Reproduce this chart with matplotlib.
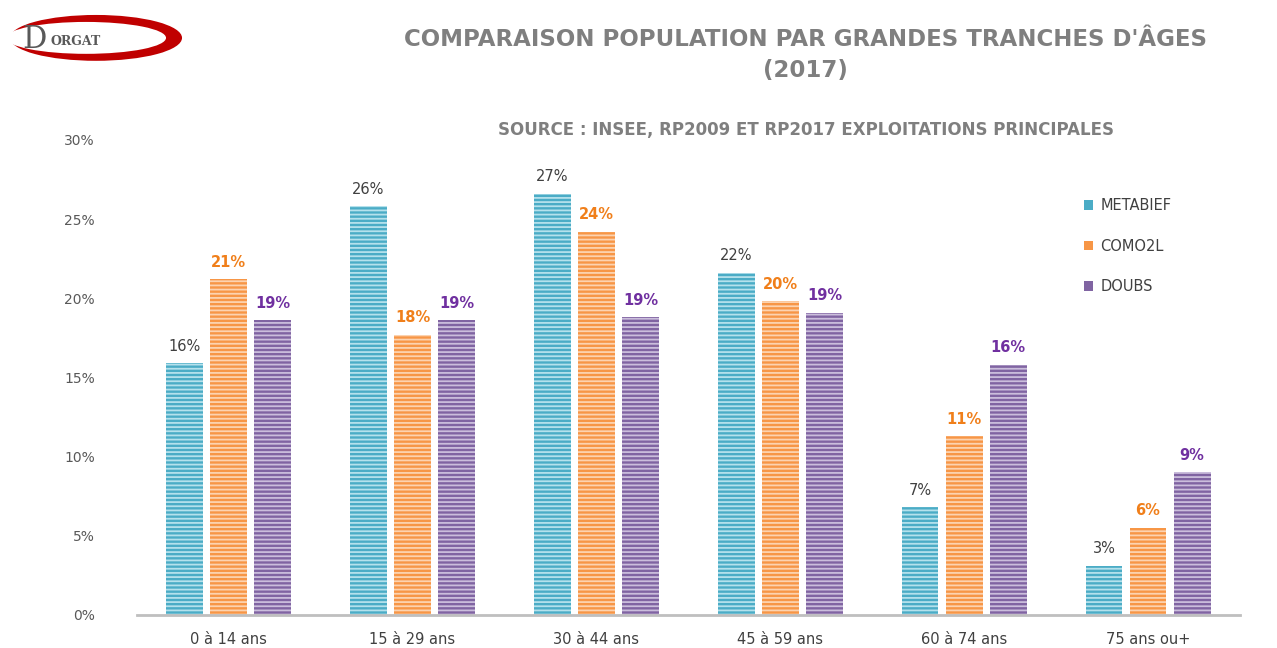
import numpy as np
import matplotlib
matplotlib.use("Agg")
import matplotlib.pyplot as plt
from matplotlib.patches import Ellipse, Patch

categories = ["0 à 14 ans", "15 à 29 ans", "30 à 44 ans", "45 à 59 ans", "60 à 74 ans", "75 ans ou+"]
metabief = [15.9, 25.8, 26.6, 21.6, 6.8, 3.1]
como2l = [21.2, 17.7, 24.2, 19.8, 11.3, 5.5]
doubs = [18.6, 18.6, 18.8, 19.1, 15.8, 9.0]
series_names = ["METABIEF", "COMO2L", "DOUBS"]
yticks = [0, 5, 10, 15, 20, 25, 30]

colors = ["#4BACC6", "#F79646", "#8064A2"]
stripes = ["#B5E1EC", "#FCD3B0", "#CBBEDC"]
label_colors = ["#404040", "#F07F1A", "#7030A0"]
label_weights = ["normal", "bold", "bold"]

plt.rcParams["hatch.linewidth"] = 1.3
fig = plt.figure(figsize=(12.77, 6.48), dpi=100)
ax = fig.add_axes([0.107, 0.051, 0.864, 0.733])

x = np.arange(len(categories))
w = 0.2
step = 0.24
for i, vals in enumerate([metabief, como2l, doubs]):
    pos = x + (i - 1) * step
    ax.bar(pos, vals, width=w, color=colors[i], edgecolor=stripes[i],
           linewidth=0, hatch="----")
    for p, v in zip(pos, vals):
        ax.text(p, v + 0.6, "%d%%" % round(v), ha="center", va="bottom",
                fontsize=10.5, color=label_colors[i], fontweight=label_weights[i])

ax.set_xlim(-0.5, 5.5)
ax.set_ylim(0, 30)
ax.set_yticks(yticks)
ax.set_yticklabels(["%d%%" % t for t in yticks], color="#595959", fontsize=10)
ax.set_xticks(x)
ax.set_xticklabels(categories, color="#404040", fontsize=10.5)
ax.tick_params(axis="x", length=0, pad=12)
ax.tick_params(axis="y", length=0, pad=30)
for s in ["top", "right", "left"]:
    ax.spines[s].set_visible(False)
ax.spines["bottom"].set_color("#BFBFBF")
ax.spines["bottom"].set_linewidth(2)

handles = [Patch(facecolor=c, edgecolor="none") for c in colors]
leg = ax.legend(handles, series_names, loc="upper left", bbox_to_anchor=(0.847, 0.905),
                frameon=False, handlelength=0.6, handleheight=0.6, labelspacing=1.75,
                handletextpad=0.5, fontsize=10.5)
for t in leg.get_texts():
    t.set_color("#404040")

fig.text(0.631, 0.915, "COMPARAISON POPULATION PAR GRANDES TRANCHES D'ÂGES\n(2017)",
         ha="center", va="center", fontsize=16.5, fontweight="bold", color="#7F7F7F",
         linespacing=1.4)
fig.text(0.631, 0.8, "SOURCE : INSEE, RP2009 ET RP2017 EXPLOITATIONS PRINCIPALES",
         ha="center", va="center", fontsize=12, fontweight="bold", color="#7F7F7F")

# logo
lax = fig.add_axes([0.0, 0.88, 0.1723, 0.12])
lax.set_xlim(0, 220)
lax.set_ylim(78, 0)
lax.axis("off")
lax.add_patch(Ellipse((96, 38), 172, 46, facecolor="#C00000", edgecolor="none"))
lax.add_patch(Ellipse((86, 38), 160, 32, facecolor="white", edgecolor="none"))
lax.text(22, 40, "D", fontsize=22, family="DejaVu Serif", color="#595959", va="center")
lax.text(50, 42, "ORGAT", fontsize=9, family="DejaVu Serif", fontweight="bold",
         color="#595959", va="center")

fig.savefig("out.png", dpi=100)
